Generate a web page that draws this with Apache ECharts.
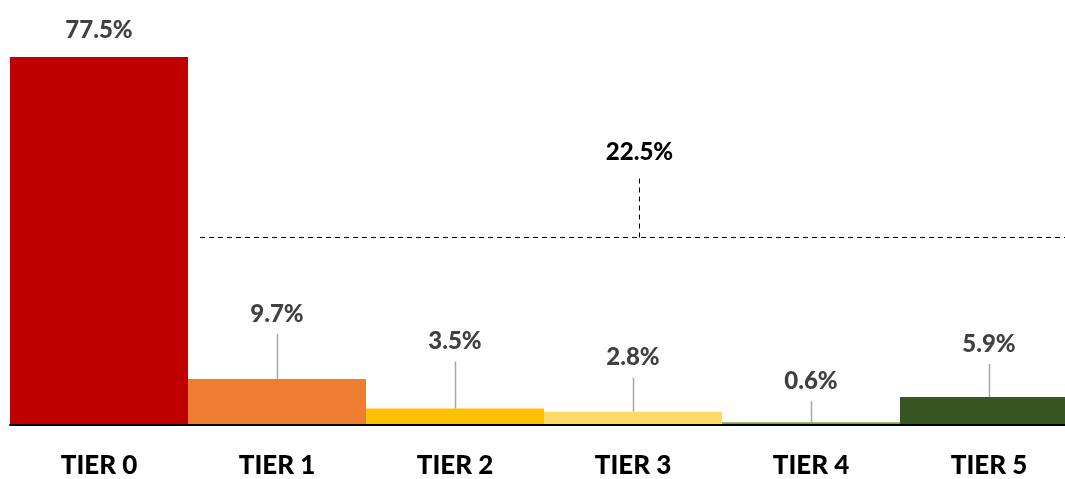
<!DOCTYPE html>
<html>
<head>
<meta charset="UTF-8">
<title>Tiers</title>
<script src="https://cdn.jsdelivr.net/npm/echarts@6/dist/echarts.min.js"></script>
<style>
  html, body { margin: 0; padding: 0; background: #fff; overflow: hidden; }
  #chart { width: 1078px; height: 479px; }
</style>
</head>
<body>
<div id="chart"></div>
<script>
var tiers = ['TIER 0', 'TIER 1', 'TIER 2', 'TIER 3', 'TIER 4', 'TIER 5'];
var shares = [77.5, 9.7, 3.5, 2.8, 0.6, 5.9];
var tierColors = ['#C00000', '#ED7D31', '#FFC000', '#FFD966', '#70AD47', '#375623'];

// leader line length (px) above each bar, 0 = label sits right on the bar
var leaderLen = [0, 45, 47, 34, 21, 33];
var BRACKET_LEVEL = 39.6;   // y value of the dashed bracket
var FONT = 'Lato, "Open Sans", sans-serif';

var others = 0;
for (var i = 1; i < shares.length; i++) others += shares[i];
others = Math.round(others * 10) / 10;

// chart is a bit wider than the window: the last bar runs off the right edge
var chart = echarts.init(document.getElementById('chart'));

var option = {
  animation: false,
  grid: { left: 10, right: 0, top: 45, bottom: 54 },
  xAxis: {
    type: 'category',
    data: tiers,
    z: 5,
    axisLine: { lineStyle: { color: '#000', width: 2 } },
    axisTick: { show: false },
    axisLabel: { color: '#000', fontFamily: FONT, fontWeight: 900, fontSize: 26, margin: 28 }
  },
  yAxis: { type: 'value', min: 0, max: 80, show: false, splitLine: { show: false } },
  series: [
    {
      type: 'bar',
      barCategoryGap: '0%',
      silent: true,
      data: shares.map(function (v, i) {
        return { value: v, itemStyle: { color: tierColors[i] } };
      })
    },
    {
      // value labels with leader lines
      type: 'custom',
      silent: true,
      z: 6,
      data: shares.map(function (v, i) { return [i, v]; }),
      renderItem: function (params, api) {
        var i = api.value(0);
        var p = api.coord([i, api.value(1)]);
        var lift = leaderLen[i];
        var x = Math.round(p[0]) + 0.5;
        var kids = [];
        if (lift > 0) {
          kids.push({
            type: 'line',
            shape: { x1: x, y1: p[1], x2: x, y2: p[1] - lift },
            style: { stroke: '#A6A6A6', lineWidth: 1.5 }
          });
        }
        kids.push({
          type: 'text',
          style: {
            x: p[0], y: p[1] - lift - (lift > 0 ? 20 : 27),
            text: shares[i].toFixed(1) + '%',
            fill: '#404040', font: '900 24px ' + FONT,
            textAlign: 'center', textVerticalAlign: 'middle'
          }
        });
        return { type: 'group', children: kids };
      }
    },
    {
      // dashed bracket over tiers 1-5
      type: 'custom',
      silent: true,
      z: 6,
      data: [[0, others]],
      renderItem: function (params, api) {
        var bw = api.size([1, 0])[0];
        var x0 = api.coord([1, 0])[0] - bw / 2 + 12;
        var x1 = api.coord([5, 0])[0] + bw / 2;
        var y = Math.round(api.coord([0, BRACKET_LEVEL])[1]) + 0.5;
        var xm = Math.round((x0 + x1) / 2) + 0.5;
        var dash = { stroke: '#000', lineWidth: 1, lineDash: [5, 4] };
        return {
          type: 'group',
          children: [
            { type: 'line', shape: { x1: x0, y1: y, x2: x1, y2: y }, style: dash },
            { type: 'line', shape: { x1: xm, y1: y, x2: xm, y2: y - 62 }, style: dash },
            {
              type: 'text',
              style: {
                x: xm, y: y - 85,
                text: api.value(1).toFixed(1) + '%',
                fill: '#000', font: '900 24px ' + FONT,
                textAlign: 'center', textVerticalAlign: 'middle'
              }
            }
          ]
        };
      }
    }
  ]
};

chart.setOption(option);
window.onresize = chart.resize;
</script>
</body>
</html>
